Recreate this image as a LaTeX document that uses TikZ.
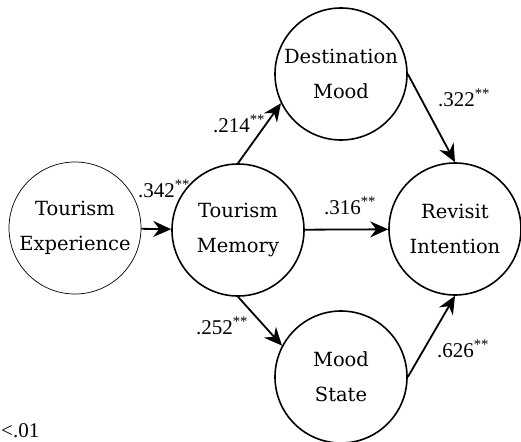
\documentclass[tikz,border=0pt]{standalone}
\usepackage{fontspec}
\setmainfont{Liberation Serif}
\newfontfamily\labelfont{DejaVu Serif}
\usetikzlibrary{arrows.meta,positioning}

\begin{document}
\begin{tikzpicture}[
      x=1pt, y=-1pt,
      var/.style={draw,circle,line width=1.6pt,minimum size=132pt,inner sep=0pt,
                  align=center,font=\labelfont\fontsize{19.5}{35}\selectfont},
      exo/.style={var,line width=0.7pt},
      arr/.style={-{Stealth[length=18pt,width=16pt,inset=6pt]},line width=1.8pt},
      coef/.style={font=\fontsize{21}{24}\selectfont,inner sep=1pt},
    ]
    \useasboundingbox (0,0) rectangle (521,441);

    % ── Constructs ─────────────────────────────────────────────────────────
    \node[exo] (exper)  at (75,228)  {Tourism\\Experience};
    \node[var] (memory) at (238,230) {Tourism\\Memory};
    \node[var] (dmood)  at (341,74)  {Destination\\Mood};
    \node[var] (mstate) at (341,377) {Mood\\State};
    \node[var] (revis)  at (455,229) {Revisit\\Intention};

    % ── Paths ──────────────────────────────────────────────────────────────
    \draw[arr] (exper)        -- (memory);
    \draw[arr] (memory.north) -- (dmood.206);
    \draw[arr] (memory)       -- (revis);
    \draw[arr] (memory.south) -- (mstate.152);
    \draw[arr] (dmood.east)   -- (revis.north);
    \draw[arr] (mstate.east)  -- (revis.south);

    % ── Coefficients ───────────────────────────────────────────────────────
    \node[coef] (c342) at (164,189) {.342\textsuperscript{**}};
    \node[coef] (c214) at (239,124) {.214\textsuperscript{**}};
    \node[coef] (c316) at (350,206) {.316\textsuperscript{**}};
    \node[coef] (c322) at (464,98)  {.322\textsuperscript{**}};
    \node[coef] (c252) at (222,326) {.252\textsuperscript{**}};
    \node[coef] (c626) at (463,349) {.626\textsuperscript{**}};

    % ── Note ───────────────────────────────────────────────────────────────
    \node[coef,anchor=west] (note) at (0,431) {<.01};

  \end{tikzpicture}
\end{document}
